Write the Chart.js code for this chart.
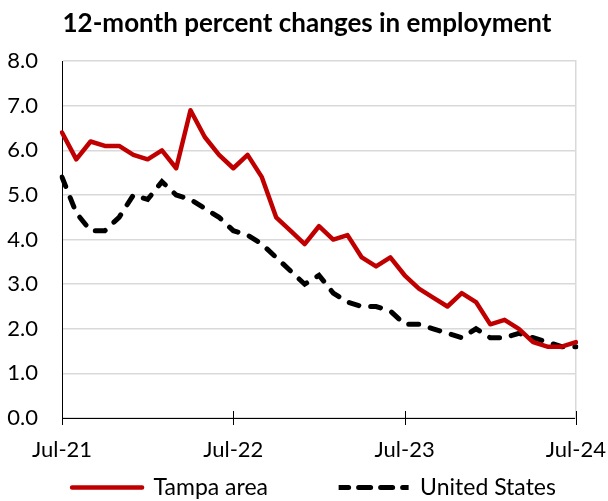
<!DOCTYPE html>
<html>
<head>
<meta charset="utf-8">
<script src="https://cdn.jsdelivr.net/npm/chart.js@4"></script>
<style>
  html, body { margin: 0; padding: 0; background: #fff; }
  #wrap { width: 608px; height: 501px; }
</style>
</head>
<body>
<div id="wrap"><canvas id="empcanvas" width="608" height="501"></canvas></div>
<script>
// months Jul-21 .. Jul-24
const months = [
  'Jul-21','Aug-21','Sep-21','Oct-21','Nov-21','Dec-21','Jan-22','Feb-22','Mar-22','Apr-22','May-22','Jun-22',
  'Jul-22','Aug-22','Sep-22','Oct-22','Nov-22','Dec-22','Jan-23','Feb-23','Mar-23','Apr-23','May-23','Jun-23',
  'Jul-23','Aug-23','Sep-23','Oct-23','Nov-23','Dec-23','Jan-24','Feb-24','Mar-24','Apr-24','May-24','Jun-24',
  'Jul-24'
];
const tickLabels = ['Jul-21', 'Jul-22', 'Jul-23', 'Jul-24'];

const tampa = [
  6.4, 5.8, 6.2, 6.1, 6.1, 5.9, 5.8, 6.0, 5.6, 6.9, 6.3, 5.9,
  5.6, 5.9, 5.4, 4.5, 4.2, 3.9, 4.3, 4.0, 4.1, 3.6, 3.4, 3.6,
  3.2, 2.9, 2.7, 2.5, 2.8, 2.6, 2.1, 2.2, 2.0, 1.7, 1.6, 1.6,
  1.7
];
const unitedStates = [
  5.4, 4.6, 4.2, 4.2, 4.5, 5.0, 4.9, 5.3, 5.0, 4.9, 4.7, 4.5,
  4.2, 4.1, 3.9, 3.6, 3.3, 3.0, 3.2, 2.8, 2.6, 2.5, 2.5, 2.4,
  2.1, 2.1, 2.0, 1.9, 1.8, 2.0, 1.8, 1.8, 1.9, 1.8, 1.7, 1.6,
  1.6
];

const fontName = 'Lato, "Open Sans", sans-serif';

// tick marks crossing the x axis line, like Excel
const crossTicks = {
  id: 'crossTicks',
  afterLayout(chart) {
    // nudge the legend a bit to the right
    chart.legend.left += 14;
  },
  afterDraw(chart) {
    const x = chart.scales.x;
    const ctx = chart.ctx;
    ctx.save();
    ctx.strokeStyle = '#000';
    ctx.lineWidth = 1;
    x.ticks.forEach((t, i) => {
      if (!tickLabels.includes(months[t.value])) return;
      const px = Math.round(x.getPixelForTick(i)) + 0.5;
      ctx.beginPath();
      ctx.moveTo(px, x.top - 7);
      ctx.lineTo(px, x.top + 7);
      ctx.stroke();
    });
    ctx.restore();
  }
};

const canva = document.getElementById('empcanvas').getContext('2d');
new Chart(canva, {
  type: 'line',
  data: {
    labels: months,
    datasets: [{
      label: 'Tampa area',
      data: tampa,
      borderColor: '#C00000',
      backgroundColor: '#C00000',
      borderWidth: 4.5,
      pointRadius: 0,
      tension: 0,
      borderJoinStyle: 'round',
      borderCapStyle: 'round'
    }, {
      label: 'United States',
      data: unitedStates,
      borderColor: '#000000',
      backgroundColor: '#000000',
      borderWidth: 5,
      borderDash: [10, 12],
      borderCapStyle: 'round',
      pointRadius: 0,
      tension: 0
    }]
  },
  options: {
    responsive: false,
    animation: false,
    layout: { padding: { left: 6, right: 0, top: 0, bottom: -8 } },
    plugins: {
      title: {
        display: true,
        text: '12-month percent changes in employment',
        color: '#000',
        font: { family: fontName, size: 26, weight: 'bold' },
        padding: { top: 8, bottom: 22 }
      },
      legend: {
        position: 'bottom',
        labels: {
          color: '#000',
          font: { family: fontName, size: 23 },
          boxWidth: 70,
          boxHeight: 0,
          padding: 16,
          generateLabels: function(chart) {
            const items = Chart.defaults.plugins.legend.labels.generateLabels(chart);
            // wider gap after the first entry
            items[0].text = items[0].text + '\u2003\u2003\u2003\u2009';
            return items;
          }
        }
      },
      tooltip: { enabled: false }
    },
    scales: {
      x: {
        offset: false,
        afterFit: s => { s.height = 42; },
        grid: {
          drawOnChartArea: false,
          tickLength: 17,
          tickColor: 'rgba(0,0,0,0)'
        },
        border: { color: '#000', width: 1 },
        ticks: {
          autoSkip: false,
          maxRotation: 0,
          color: '#000',
          padding: 2,
          font: { family: fontName, size: 22 },
          callback: function(value) {
            const lab = months[value];
            return tickLabels.includes(lab) ? lab : null;
          }
        }
      },
      y: {
        min: 0,
        max: 8,
        afterFit: s => { s.width = 56; },
        grid: { color: '#d9d9d9', lineWidth: 1.5, drawTicks: false },
        border: { color: '#000', width: 1 },
        ticks: {
          stepSize: 1,
          color: '#000',
          padding: 24,
          font: { family: fontName, size: 22 },
          callback: v => v.toFixed(1)
        }
      },
      y2: {
        position: 'right',
        min: 0,
        max: 8,
        afterFit: s => { s.width = 0; },
        grid: { drawOnChartArea: false, drawTicks: false },
        border: { color: '#d9d9d9', width: 1.5 },
        ticks: { display: false }
      }
    }
  },
  plugins: [crossTicks]
});
</script>
</body>
</html>
